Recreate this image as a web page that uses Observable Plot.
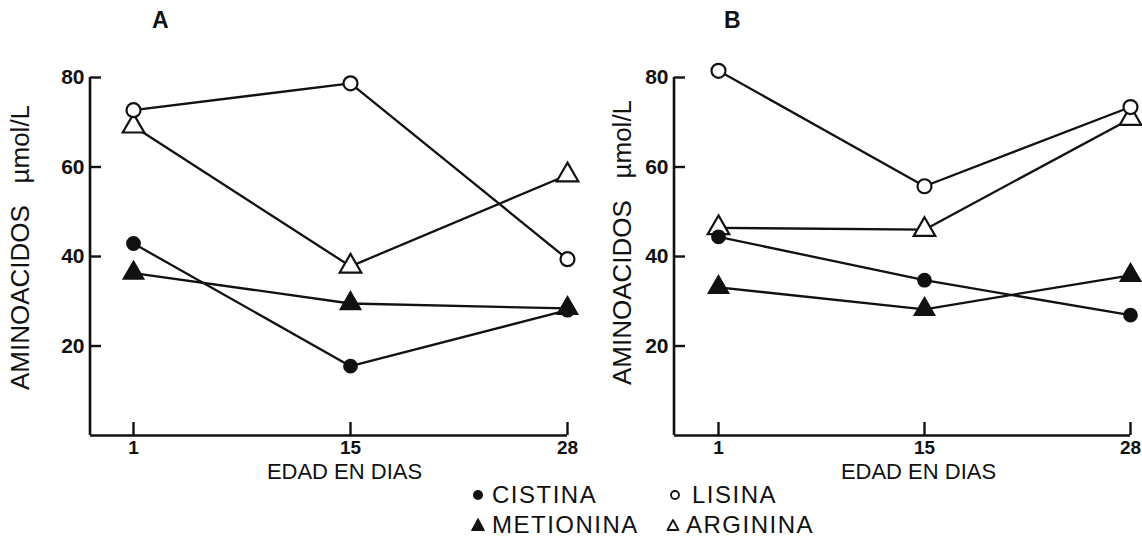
<!DOCTYPE html>
<html>
<head>
<meta charset="utf-8">
<script src="https://cdn.jsdelivr.net/npm/d3@7"></script>
<script src="https://cdn.jsdelivr.net/npm/@observablehq/plot@0.6"></script>
<style>
  html, body { margin: 0; padding: 0; background: #fff; }
  #chart { position: relative; width: 1142px; height: 551px; overflow: hidden;
           font-family: "Liberation Sans", Arial, sans-serif; color: #111; }
  .panel { position: absolute; top: 0; }
  .tag { position: absolute; font-weight: bold; font-size: 23px; line-height: 23px; }
  .key { position: absolute; font-size: 24px; line-height: 24px; letter-spacing: 1.5px; white-space: nowrap; }
  .key-icon { position: absolute; }
</style>
</head>
<body>
<div id="chart"></div>
<script>
// Day labels on the x axis and y tick values
const days = ["1", "15", "28"];
const yTicks = [20, 40, 60, 80];
const xLabel = "EDAD EN DIAS";
const yLabel = "AMINOACIDOS\u00a0\u00a0\u00a0µmol/L";
const panelTags = ["A", "B"];
const seriesNames = ["CISTINA", "LISINA", "METIONINA", "ARGININA"];

// Panel A (µmol/L at days 1, 15, 28)
const cistinaA   = [42.9, 15.5, 28.0];
const lisinaA    = [72.7, 78.7, 39.4];
const metioninaA = [36.3, 29.5, 28.4];
const argininaA  = [69.1, 37.8, 58.2];

// Panel B
const cistinaB   = [44.4, 34.7, 26.9];
const lisinaB    = [81.5, 55.7, 73.4];
const metioninaB = [33.1, 28.2, 35.8];
const argininaB  = [46.4, 46.0, 70.8];

const ink = "#111";
const markers = {
  CISTINA:   {symbol: "circle",   fill: ink,     r: 6.3},
  LISINA:    {symbol: "circle",   fill: "white", r: 7},
  METIONINA: {symbol: "triangle", fill: ink,     r: 7.2},
  ARGININA:  {symbol: "triangle", fill: "white", r: 8}
};
const drawOrder = ["ARGININA", "LISINA", "CISTINA", "METIONINA"];

function panel(valuesByName, layout) {
  const {width, height, marginTop, marginBottom, marginLeft, marginRight, insetLeft, yLabelDx, yLabelDy} = layout;
  const rows = seriesNames.flatMap((name) =>
    valuesByName[name].map((value, i) => ({name, day: days[i], value}))
  );
  const frameW = width - marginLeft - marginRight;
  const frameH = height - marginTop - marginBottom;
  return Plot.plot({
    width, height, marginTop, marginBottom, marginLeft, marginRight,
    insetLeft, insetRight: 0,
    x: {type: "point", domain: days, padding: 0, axis: null},
    y: {domain: [0, 80], axis: null},
    style: {fontFamily: '"Liberation Sans", Arial, sans-serif', color: ink, background: "transparent", overflow: "visible"},
    marks: [
      // axis lines
      Plot.ruleY([0], {stroke: ink, strokeWidth: 2.6}),
      Plot.rect([0], {insetRight: frameW - 2.6, dx: -1.3, fill: ink}),
      // inward ticks
      Plot.tickY(yTicks, {y: (d) => d, insetRight: frameW - 11, stroke: ink, strokeWidth: 2.4}),
      Plot.tickX(days, {x: (d) => d, insetTop: frameH - 13, stroke: ink, strokeWidth: 2.4}),
      // tick labels
      Plot.text(yTicks, {y: (d) => d, text: (d) => String(d), frameAnchor: "left", textAnchor: "end",
                         lineAnchor: "middle", dx: -6, fontSize: 21, fontWeight: "bold", fill: ink}),
      Plot.text(days, {x: (d) => d, text: (d) => d, frameAnchor: "bottom", lineAnchor: "middle",
                       dy: 12, fontSize: 19, fontWeight: "bold", fill: ink}),
      // axis titles
      Plot.text([xLabel], {x: () => days[1], text: (d) => d, frameAnchor: "bottom", lineAnchor: "middle",
                           dy: 36, dx: -6, fontSize: 22, fill: ink}),
      Plot.text([yLabel], {text: (d) => d, frameAnchor: "left", textAnchor: "middle", lineAnchor: "middle",
                           rotate: -90, dx: yLabelDx, dy: yLabelDy, fontSize: 26, fill: ink}),
      // series
      Plot.line(rows, {x: "day", y: "value", z: "name", stroke: ink, strokeWidth: 2.3}),
      ...drawOrder.map((name) =>
        Plot.dot(rows.filter((d) => d.name === name), {
          x: "day", y: "value", symbol: markers[name].symbol, r: markers[name].r,
          fill: markers[name].fill, stroke: ink, strokeWidth: 2.2
        })
      )
    ]
  });
}

const chart = document.getElementById("chart");

const layouts = [
  {left: 0,   width: 580, height: 480, marginTop: 77, marginBottom: 45, marginLeft: 90, marginRight: 13,
   insetLeft: 43, yLabelDx: -70, yLabelDy: -9, tagLeft: 152},
  {left: 580, width: 562, height: 480, marginTop: 77, marginBottom: 45, marginLeft: 94, marginRight: 12,
   insetLeft: 44, yLabelDx: -52, yLabelDy: -14, tagLeft: 724}
];
const panelData = [
  {CISTINA: cistinaA, LISINA: lisinaA, METIONINA: metioninaA, ARGININA: argininaA},
  {CISTINA: cistinaB, LISINA: lisinaB, METIONINA: metioninaB, ARGININA: argininaB}
];

layouts.forEach((layout, i) => {
  const wrap = document.createElement("div");
  wrap.className = "panel";
  wrap.style.left = layout.left + "px";
  wrap.appendChild(panel(panelData[i], layout));
  chart.appendChild(wrap);

  const tag = document.createElement("div");
  tag.className = "tag";
  tag.style.left = layout.tagLeft + "px";
  tag.style.top = "9px";
  tag.textContent = panelTags[i];
  chart.appendChild(tag);
});

// Legend: symbol + name, two rows of two
const legendPlacement = {
  CISTINA:   {iconX: 478, textX: 492, y: 495},
  LISINA:    {iconX: 675, textX: 692, y: 495},
  METIONINA: {iconX: 478, textX: 492, y: 525},
  ARGININA:  {iconX: 673, textX: 686, y: 525}
};
const legendIcon = {
  CISTINA:   `<circle cx="8" cy="8" r="5" fill="${ink}"/>`,
  LISINA:    `<circle cx="8" cy="8" r="4" fill="white" stroke="${ink}" stroke-width="1.8"/>`,
  METIONINA: `<path d="M8,1.5L14.5,13.5H1.5Z" fill="${ink}" stroke="${ink}" stroke-width="1" stroke-linejoin="round"/>`,
  ARGININA:  `<path d="M8,3L13.5,13H2.5Z" fill="white" stroke="${ink}" stroke-width="1.8" stroke-linejoin="round"/>`
};
seriesNames.forEach((name) => {
  const p = legendPlacement[name];
  const icon = document.createElement("div");
  icon.className = "key-icon";
  icon.style.left = (p.iconX - 8) + "px";
  icon.style.top = (p.y - 8) + "px";
  icon.innerHTML = `<svg width="16" height="16" viewBox="0 0 16 16">${legendIcon[name]}</svg>`;
  chart.appendChild(icon);

  const label = document.createElement("div");
  label.className = "key";
  label.style.left = p.textX + "px";
  label.style.top = (p.y - 12) + "px";
  label.textContent = name;
  chart.appendChild(label);
});
</script>
</body>
</html>
